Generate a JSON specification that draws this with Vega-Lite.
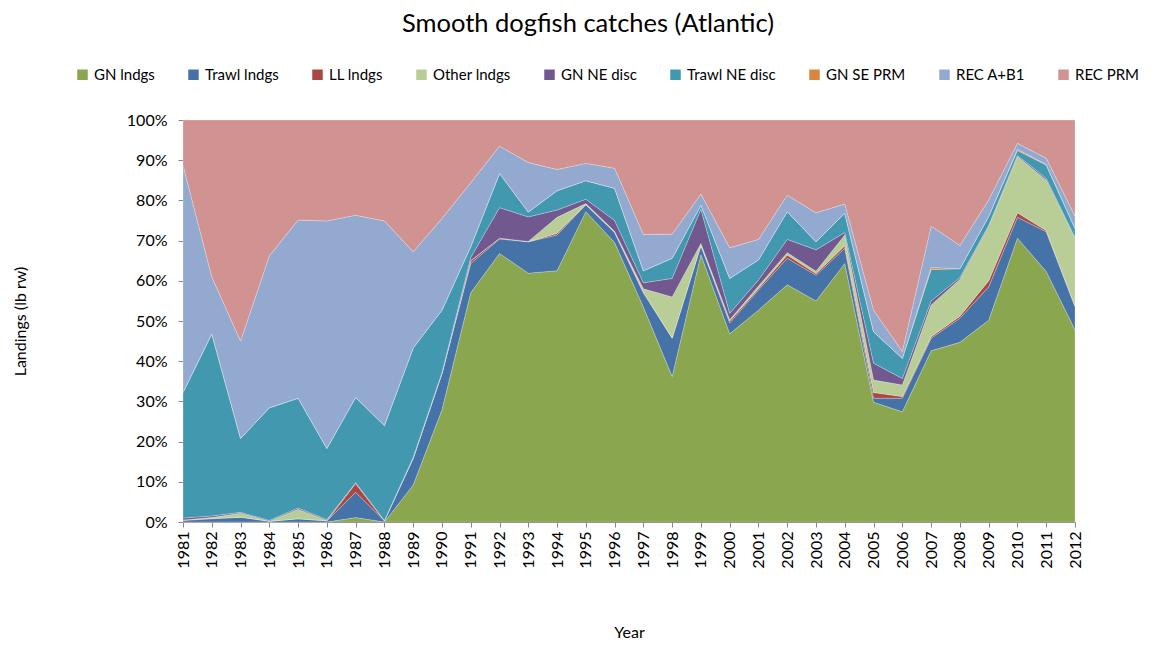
{
  "$schema": "https://vega.github.io/schema/vega-lite/v6.json",
  "width": 892,
  "height": 402,
  "autosize": {"type": "none"},
  "padding": {"left": 183, "top": 120, "right": 79, "bottom": 124},
  "background": "white",
  "config": {"font": "Lato", "view": {"stroke": null}},
  "title": {"text": "Smooth dogfish catches (Atlantic)", "fontSize": 25.5, "fontWeight": "normal", "color": "#000000", "frame": "group", "offset": 30, "anchor": "middle", "dx": -41},
  "datasets": {
    "catch": [
      {"Year": 1981, "GN lndgs": 0, "Trawl lndgs": 0.4, "LL lndgs": 0.1, "Other lndgs": 0, "GN NE disc": 0.5, "Trawl NE disc": 31.2, "GN SE PRM": 0, "REC A+B1": 56.6, "REC PRM": 11.2},
      {"Year": 1982, "GN lndgs": 0, "Trawl lndgs": 0.8, "LL lndgs": 0.1, "Other lndgs": 0.2, "GN NE disc": 0.4, "Trawl NE disc": 45.3, "GN SE PRM": 0, "REC A+B1": 14.2, "REC PRM": 39.0},
      {"Year": 1983, "GN lndgs": 0, "Trawl lndgs": 1.2, "LL lndgs": 0, "Other lndgs": 1.0, "GN NE disc": 0.2, "Trawl NE disc": 18.4, "GN SE PRM": 0, "REC A+B1": 24.2, "REC PRM": 55.0},
      {"Year": 1984, "GN lndgs": 0, "Trawl lndgs": 0.2, "LL lndgs": 0, "Other lndgs": 0, "GN NE disc": 0.2, "Trawl NE disc": 28.0, "GN SE PRM": 0, "REC A+B1": 37.8, "REC PRM": 33.8},
      {"Year": 1985, "GN lndgs": 0, "Trawl lndgs": 0.8, "LL lndgs": 0, "Other lndgs": 2.4, "GN NE disc": 0.3, "Trawl NE disc": 27.3, "GN SE PRM": 0, "REC A+B1": 44.3, "REC PRM": 24.9},
      {"Year": 1986, "GN lndgs": 0, "Trawl lndgs": 0.3, "LL lndgs": 0, "Other lndgs": 0.1, "GN NE disc": 0.2, "Trawl NE disc": 17.7, "GN SE PRM": 0, "REC A+B1": 56.6, "REC PRM": 25.1},
      {"Year": 1987, "GN lndgs": 1.1, "Trawl lndgs": 6.3, "LL lndgs": 2.2, "Other lndgs": 0, "GN NE disc": 0.2, "Trawl NE disc": 21.2, "GN SE PRM": 0, "REC A+B1": 45.3, "REC PRM": 23.7},
      {"Year": 1988, "GN lndgs": 0, "Trawl lndgs": 0.3, "LL lndgs": 0, "Other lndgs": 0, "GN NE disc": 0.1, "Trawl NE disc": 23.6, "GN SE PRM": 0, "REC A+B1": 50.9, "REC PRM": 25.1},
      {"Year": 1989, "GN lndgs": 9.2, "Trawl lndgs": 6.6, "LL lndgs": 0.1, "Other lndgs": 0, "GN NE disc": 0.2, "Trawl NE disc": 27.2, "GN SE PRM": 0, "REC A+B1": 23.9, "REC PRM": 32.8},
      {"Year": 1990, "GN lndgs": 27.9, "Trawl lndgs": 9.0, "LL lndgs": 0.1, "Other lndgs": 0, "GN NE disc": 0.2, "Trawl NE disc": 15.5, "GN SE PRM": 0, "REC A+B1": 22.8, "REC PRM": 24.5},
      {"Year": 1991, "GN lndgs": 57.0, "Trawl lndgs": 7.3, "LL lndgs": 0.6, "Other lndgs": 0.1, "GN NE disc": 0.8, "Trawl NE disc": 2.7, "GN SE PRM": 0, "REC A+B1": 15.9, "REC PRM": 15.6},
      {"Year": 1992, "GN lndgs": 66.8, "Trawl lndgs": 3.6, "LL lndgs": 0.2, "Other lndgs": 0, "GN NE disc": 7.6, "Trawl NE disc": 8.5, "GN SE PRM": 0, "REC A+B1": 6.8, "REC PRM": 6.5},
      {"Year": 1993, "GN lndgs": 61.9, "Trawl lndgs": 7.8, "LL lndgs": 0, "Other lndgs": 0.1, "GN NE disc": 6.1, "Trawl NE disc": 1.2, "GN SE PRM": 0, "REC A+B1": 12.3, "REC PRM": 10.6},
      {"Year": 1994, "GN lndgs": 62.5, "Trawl lndgs": 8.9, "LL lndgs": 0.4, "Other lndgs": 4.0, "GN NE disc": 1.8, "Trawl NE disc": 4.8, "GN SE PRM": 0, "REC A+B1": 5.3, "REC PRM": 12.3},
      {"Year": 1995, "GN lndgs": 77.2, "Trawl lndgs": 1.7, "LL lndgs": 0.1, "Other lndgs": 0.2, "GN NE disc": 1.1, "Trawl NE disc": 4.6, "GN SE PRM": 0, "REC A+B1": 4.3, "REC PRM": 10.8},
      {"Year": 1996, "GN lndgs": 69.5, "Trawl lndgs": 2.5, "LL lndgs": 0.1, "Other lndgs": 0.2, "GN NE disc": 2.7, "Trawl NE disc": 8.0, "GN SE PRM": 0, "REC A+B1": 5.0, "REC PRM": 12.0},
      {"Year": 1997, "GN lndgs": 53.5, "Trawl lndgs": 3.5, "LL lndgs": 0.2, "Other lndgs": 0.8, "GN NE disc": 1.5, "Trawl NE disc": 3.0, "GN SE PRM": 0, "REC A+B1": 9.0, "REC PRM": 28.5},
      {"Year": 1998, "GN lndgs": 36.2, "Trawl lndgs": 9.5, "LL lndgs": 0.1, "Other lndgs": 10.2, "GN NE disc": 4.6, "Trawl NE disc": 5.0, "GN SE PRM": 0, "REC A+B1": 6.0, "REC PRM": 28.4},
      {"Year": 1999, "GN lndgs": 66.5, "Trawl lndgs": 2.2, "LL lndgs": 0.1, "Other lndgs": 0.5, "GN NE disc": 8.5, "Trawl NE disc": 1.0, "GN SE PRM": 0, "REC A+B1": 2.8, "REC PRM": 18.4},
      {"Year": 2000, "GN lndgs": 46.8, "Trawl lndgs": 2.7, "LL lndgs": 0.5, "Other lndgs": 0.3, "GN NE disc": 1.6, "Trawl NE disc": 8.7, "GN SE PRM": 0, "REC A+B1": 7.6, "REC PRM": 31.8},
      {"Year": 2001, "GN lndgs": 52.7, "Trawl lndgs": 5.0, "LL lndgs": 0.4, "Other lndgs": 0.6, "GN NE disc": 1.5, "Trawl NE disc": 5.0, "GN SE PRM": 0, "REC A+B1": 5.1, "REC PRM": 29.7},
      {"Year": 2002, "GN lndgs": 59.0, "Trawl lndgs": 6.6, "LL lndgs": 0.8, "Other lndgs": 0.6, "GN NE disc": 3.3, "Trawl NE disc": 6.9, "GN SE PRM": 0, "REC A+B1": 4.1, "REC PRM": 18.7},
      {"Year": 2003, "GN lndgs": 55.0, "Trawl lndgs": 6.4, "LL lndgs": 0.4, "Other lndgs": 0.6, "GN NE disc": 5.3, "Trawl NE disc": 2.0, "GN SE PRM": 0, "REC A+B1": 7.2, "REC PRM": 23.1},
      {"Year": 2004, "GN lndgs": 64.3, "Trawl lndgs": 3.8, "LL lndgs": 0.6, "Other lndgs": 2.7, "GN NE disc": 0.6, "Trawl NE disc": 4.8, "GN SE PRM": 0, "REC A+B1": 2.3, "REC PRM": 20.9},
      {"Year": 2005, "GN lndgs": 29.8, "Trawl lndgs": 1.0, "LL lndgs": 1.4, "Other lndgs": 3.1, "GN NE disc": 4.2, "Trawl NE disc": 7.8, "GN SE PRM": 0, "REC A+B1": 5.4, "REC PRM": 47.3},
      {"Year": 2006, "GN lndgs": 27.4, "Trawl lndgs": 3.4, "LL lndgs": 0.4, "Other lndgs": 2.9, "GN NE disc": 1.6, "Trawl NE disc": 5.0, "GN SE PRM": 0, "REC A+B1": 1.7, "REC PRM": 57.6},
      {"Year": 2007, "GN lndgs": 42.6, "Trawl lndgs": 3.1, "LL lndgs": 0.4, "Other lndgs": 7.9, "GN NE disc": 1.0, "Trawl NE disc": 7.8, "GN SE PRM": 0.5, "REC A+B1": 10.3, "REC PRM": 26.4},
      {"Year": 2008, "GN lndgs": 44.7, "Trawl lndgs": 6.0, "LL lndgs": 0.5, "Other lndgs": 9.2, "GN NE disc": 0.4, "Trawl NE disc": 2.2, "GN SE PRM": 0, "REC A+B1": 5.8, "REC PRM": 31.2},
      {"Year": 2009, "GN lndgs": 50.2, "Trawl lndgs": 8.3, "LL lndgs": 1.5, "Other lndgs": 13.5, "GN NE disc": 0.3, "Trawl NE disc": 2.2, "GN SE PRM": 0, "REC A+B1": 4.1, "REC PRM": 19.9},
      {"Year": 2010, "GN lndgs": 70.6, "Trawl lndgs": 5.2, "LL lndgs": 1.1, "Other lndgs": 14.0, "GN NE disc": 0.3, "Trawl NE disc": 1.2, "GN SE PRM": 0.3, "REC A+B1": 1.5, "REC PRM": 5.8},
      {"Year": 2011, "GN lndgs": 62.3, "Trawl lndgs": 9.9, "LL lndgs": 0.3, "Other lndgs": 12.6, "GN NE disc": 0.4, "Trawl NE disc": 3.3, "GN SE PRM": 0.1, "REC A+B1": 1.6, "REC PRM": 9.5},
      {"Year": 2012, "GN lndgs": 47.8, "Trawl lndgs": 5.8, "LL lndgs": 0.1, "Other lndgs": 16.9, "GN NE disc": 0.2, "Trawl NE disc": 2.2, "GN SE PRM": 0, "REC A+B1": 3.1, "REC PRM": 23.9}
    ]
  },
  "data": {"name": "catch"},
  "transform": [
    {"fold": ["GN lndgs", "Trawl lndgs", "LL lndgs", "Other lndgs", "GN NE disc", "Trawl NE disc", "GN SE PRM", "REC A+B1", "REC PRM"], "as": ["Series", "Value"]},
    {"calculate": "indexof(['GN lndgs','Trawl lndgs','LL lndgs','Other lndgs','GN NE disc','Trawl NE disc','GN SE PRM','REC A+B1','REC PRM'], datum.Series)", "as": "SeriesOrder"}
  ],
  "mark": {"type": "area", "interpolate": "linear", "stroke": "#ffffff", "strokeWidth": 0.4, "strokeOpacity": 0.6},
  "encoding": {
    "x": {
      "field": "Year", "type": "ordinal",
      "scale": {"type": "point", "padding": 0},
      "axis": {"title": "Year", "titleFontSize": 16, "titleFontWeight": "normal", "titlePadding": 56, "labelAngle": 270, "labelFontSize": 16, "labelPadding": 4, "labelColor": "#000", "titleColor": "#000", "domainColor": "#868686", "tickColor": "#868686", "tickSize": 5}
    },
    "y": {
      "field": "Value", "type": "quantitative", "stack": "normalize",
      "scale": {"domain": [0, 1], "nice": false},
      "axis": {"title": "Landings (lb rw)", "values": [0, 0.1, 0.2, 0.3, 0.4, 0.5, 0.6, 0.7, 0.8, 0.9, 1], "format": ".0%", "grid": false, "titleFontSize": 16, "titleFontWeight": "normal", "titlePadding": 98, "labelFontSize": 16, "labelPadding": 11, "labelColor": "#000", "titleColor": "#000", "domainColor": "#868686", "tickColor": "#868686", "tickSize": 5}
    },
    "color": {
      "field": "Series", "type": "nominal",
      "scale": {
        "domain": ["GN lndgs", "Trawl lndgs", "LL lndgs", "Other lndgs", "GN NE disc", "Trawl NE disc", "GN SE PRM", "REC A+B1", "REC PRM"],
        "range": ["#8AA64E", "#4572A7", "#AA4643", "#B9CD96", "#71588F", "#4198AF", "#DB843D", "#93A9CF", "#D19392"]
      },
      "legend": {"orient": "none", "legendX": -108, "legendY": -53, "direction": "horizontal", "columns": 9, "title": null, "symbolType": "square", "symbolSize": 110, "symbolStrokeWidth": 0, "labelFontSize": 15, "labelColor": "#000", "columnPadding": 31, "labelOffset": 4}
    },
    "order": {"field": "SeriesOrder", "type": "quantitative", "sort": "ascending"}
  }
}
